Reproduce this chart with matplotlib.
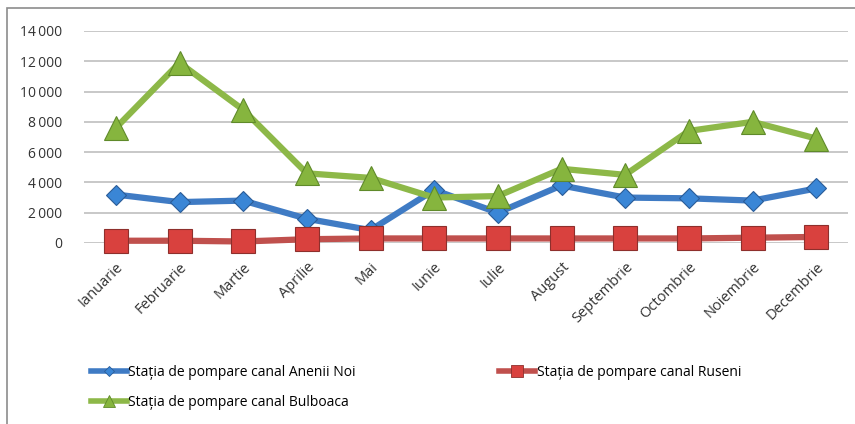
import matplotlib.pyplot as plt
import matplotlib.ticker as mticker
from matplotlib.lines import Line2D
from matplotlib.patches import Rectangle

months = ["Ianuarie", "Februarie", "Martie", "Aprilie", "Mai", "Iunie",
          "Iulie", "August", "Septembrie", "Octombrie", "Noiembrie", "Decembrie"]
anenii_noi = [3200, 2700, 2800, 1600, 850, 3500, 2000, 3800, 3000, 2950, 2800, 3600]
ruseni = [150, 150, 100, 250, 300, 300, 300, 300, 300, 300, 350, 400]
bulboaca = [7600, 11900, 8800, 4600, 4300, 3000, 3100, 4900, 4500, 7400, 8000, 6900]
labels = ["Stația de pompare canal Anenii Noi",
          "Stația de pompare canal Ruseni",
          "Stația de pompare canal Bulboaca"]

plt.rcParams['font.family'] = ['Open Sans', 'DejaVu Sans']

W, H = 855, 424
fig = plt.figure(figsize=(W / 100, H / 100), dpi=100)
fig.patches.append(Rectangle((7 / W, -0.1), 1.1, 1 - 8 / H + 0.1, transform=fig.transFigure,
                             fill=False, edgecolor='#8c8c8c', linewidth=1.2))

ax = fig.add_axes([84 / W, 1 - 243 / H, (848 - 84) / W, (243 - 31) / H])
x = list(range(len(months)))

styles = [
    dict(color='#3f7bc4', marker='D', markersize=10, mfc='#3a86d6', mec='#2a5c98'),
    dict(color='#c0504d', marker='s', markersize=17, mfc='#d9413e', mec='#8e2f2c'),
    dict(color='#8db848', marker='^', markersize=17, mfc='#86b53e', mec='#5f8a2a'),
]
series = [anenii_noi, ruseni, bulboaca]
for i, (ys, st) in enumerate(zip(series, styles)):
    ax.plot(x, ys, linewidth=4.5, markeredgewidth=0.8, label=labels[i], zorder=3 + i,
            solid_capstyle='round', clip_on=False, **st)

ax.set_xlim(-0.5, 11.5)
ax.set_ylim(0, 14000)
ax.yaxis.set_major_locator(mticker.MultipleLocator(2000))
ax.yaxis.set_major_formatter(mticker.FuncFormatter(lambda v, p: f"{int(v):,}".replace(",", "\u2009")))
ax.grid(axis='y', color='#bfbfbf', linewidth=1.2)
ax.set_axisbelow(True)
for s in ax.spines.values():
    s.set_visible(False)
ax.tick_params(axis='both', length=0, labelsize=10, colors='#333333')
ax.tick_params(axis='y', pad=16)
ax.set_xticks(x)
ax.set_xticklabels(months, rotation=45, ha='right', rotation_mode='anchor', fontsize=10.5)
ax.tick_params(axis='x', pad=12)

handles = []
for st, lab in zip(styles, labels):
    st2 = dict(st)
    st2['markersize'] = st['markersize'] * 0.55
    handles.append(Line2D([], [], linewidth=4, markeredgewidth=0.6, **st2))
order = [0, 2, 1]
fig.legend([handles[k] for k in order], [labels[k] for k in order],
           loc='upper left', bbox_to_anchor=(84 / W, 1 - 358 / H), ncol=2,
           frameon=False, fontsize=10, handlelength=2.6, handletextpad=0.1,
           columnspacing=10.3, labelspacing=1.1, borderpad=0)

fig.savefig("out.png", dpi=100)
